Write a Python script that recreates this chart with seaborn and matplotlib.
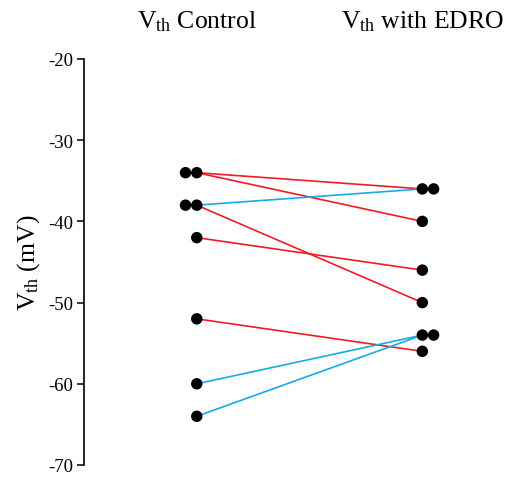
import matplotlib
matplotlib.use("Agg")
import matplotlib.pyplot as plt
import numpy as np
import pandas as pd
import seaborn as sns

# Threshold voltage per cell (mV), before and after EDRO
conditions = [r"V$_{\mathrm{th}}$ Control", r"V$_{\mathrm{th}}$ with EDRO"]
vth_control = [-34, -34, -38, -38, -42, -52, -60, -64]
vth_edro = [-36, -40, -36, -50, -46, -56, -54, -54]
y_ticks = [-70, -60, -50, -40, -30, -20]

sns.set_theme(style="white")
plt.rcParams["font.family"] = ["Liberation Serif", "DejaVu Serif"]
plt.rcParams["mathtext.fontset"] = "custom"
plt.rcParams["mathtext.rm"] = "Liberation Serif"
plt.rcParams["mathtext.it"] = "Liberation Serif:italic"
plt.rcParams["text.color"] = "black"
plt.rcParams["axes.labelcolor"] = "black"
plt.rcParams["xtick.color"] = "black"
plt.rcParams["ytick.color"] = "black"

cells = np.arange(len(vth_control))
change = np.where(np.array(vth_edro) > np.array(vth_control), "up", "down")
long = pd.DataFrame({
    "cell": np.concatenate([cells, cells]),
    "pos": np.concatenate([np.zeros(len(cells)), np.ones(len(cells))]),
    "vth": np.concatenate([vth_control, vth_edro]),
    "change": np.concatenate([change, change]),
})

# Repeated values in a column are nudged outward so each dot stays visible
dup = long.groupby(["pos", "vth"]).cumcount()
outward = np.where(long["pos"] == 0, -1, 1)
long["dot_x"] = long["pos"] + 0.05 * dup * outward

palette = {"down": "#EE1C25", "up": "#14ACE3"}

fig = plt.figure(figsize=(5.15, 4.81), dpi=100)
ax = fig.add_axes([84 / 515, 1 - 466 / 481, (490 - 84) / 515, (466 - 60) / 481])

sns.lineplot(data=long, x="pos", y="vth", units="cell", estimator=None,
             hue="change", palette=palette, linewidth=1.2, legend=False,
             ax=ax, zorder=2)
sns.scatterplot(data=long, x="dot_x", y="vth", color="black", s=68,
                edgecolor="none", legend=False, ax=ax, zorder=3)

ax.set_xlim(-0.5, 1.3)
ax.set_ylim(-70, -20)
ax.set_yticks(y_ticks)
ax.set_yticklabels([str(t) for t in y_ticks], fontsize=13.5)
ax.set_xticks([0, 1])
ax.set_xticklabels(conditions, fontsize=18.5)
ax.xaxis.tick_top()
ax.tick_params(axis="x", length=0, pad=19)
ax.tick_params(axis="y", direction="out", length=5, width=1.1,
               left=True, pad=3)
ax.set_xlabel("")
ax.set_ylabel(r"V$_{\mathrm{th}}$ (mV)", fontsize=18.5, labelpad=4)

for side in ["top", "right", "bottom"]:
    ax.spines[side].set_visible(False)
ax.spines["left"].set_color("black")
ax.spines["left"].set_linewidth(1.2)

fig.savefig("out.png", dpi=100, facecolor="white")
